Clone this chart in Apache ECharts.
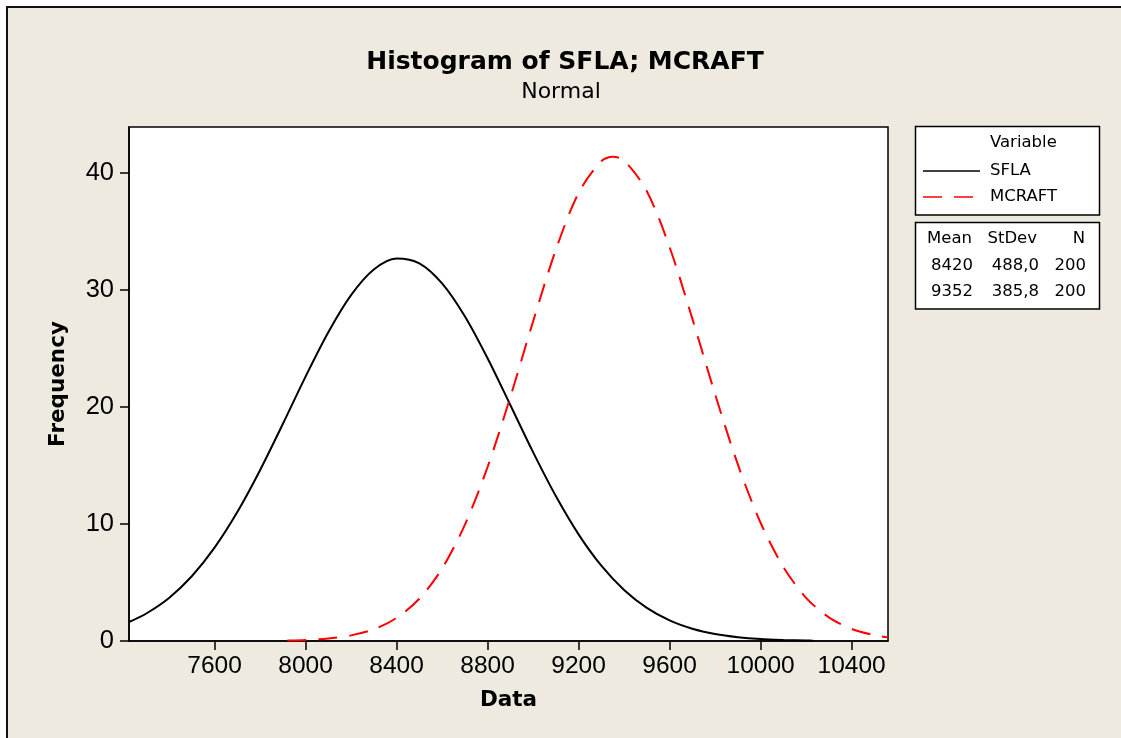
<!DOCTYPE html>
<html>
<head>
<meta charset="utf-8">
<script src="https://cdn.jsdelivr.net/npm/echarts@6/dist/echarts.min.js"></script>
<style>
  html, body { margin: 0; padding: 0; background: #ffffff; }
  #chart { width: 1121px; height: 738px; }
</style>
</head>
<body>
<div id="chart"></div>
<script>
// Fitted normal curves (frequency per 200-unit bin) for the two variables
const sflaX = [7224, 7300, 7400, 7500, 7600, 7700, 7800, 7900, 8000, 8100, 8200, 8300, 8400, 8500,
  8600, 8700, 8800, 8900, 9000, 9100, 9200, 9300, 9400, 9500, 9600, 9700, 9800, 9900, 10000,
  10100, 10200, 10230];
const sflaY = [1.62, 2.35, 3.68, 5.53, 7.97, 11.01, 14.59, 18.53, 22.58, 26.37, 29.54, 31.73, 32.67, 32.26,
  30.55, 27.74, 24.15, 20.16, 16.13, 12.38, 9.11, 6.43, 4.36, 2.83, 1.76, 1.05, 0.60, 0.33, 0.17,
  0.09, 0.04, 0.03];

const mcraftX = [7920, 8000, 8100, 8200, 8300, 8400, 8500, 8600, 8700, 8800, 8900, 9000, 9100, 9200,
  9300, 9350, 9400, 9500, 9600, 9700, 9800, 9900, 10000, 10100, 10200, 10300, 10400, 10500, 10560];
const mcraftY = [0.04, 0.09, 0.21, 0.48, 1.00, 1.97, 3.61, 6.19, 9.92, 14.86, 20.83, 27.29, 33.41, 38.27,
  40.98, 41.35, 41.04, 38.42, 33.64, 27.53, 21.08, 15.08, 10.10, 6.32, 3.69, 2.02, 1.03, 0.49, 0.31];

// Axis ticks
const xTicks = [7600, 8000, 8400, 8800, 9200, 9600, 10000, 10400];
const yTicks = [0, 10, 20, 30, 40];

// Legend and summary table
const seriesNames = ['SFLA', 'MCRAFT'];
const seriesColors = ['#000000', '#ff0000'];
const means = [8420, 9352];
const stdevs = [488.0, 385.8];
const counts = [200, 200];

const BG = '#eeeae0';
const REG = '"DejaVu Sans", sans-serif';
const TICKF = '"Liberation Sans", Arial, sans-serif';
const DASH = [19, 12];

const chart = echarts.init(document.getElementById('chart'), null, { renderer: 'canvas' });

function toPairs(xs, ys) { return xs.map((x, i) => [x, ys[i]]); }
function fmtDec(v) { return v.toFixed(1).replace('.', ','); }

// Frame, titles, legend boxes
const legendLeft = 915.5, legendW = 184;
const graphics = [
  { type: 'rect', z: -10, shape: { x: 7, y: 7, width: 1300, height: 900 },
    style: { fill: BG, stroke: '#111', lineWidth: 2 }, silent: true },
  { type: 'text', x: 565, y: 62, style: { text: 'Histogram of SFLA; MCRAFT', fill: '#000',
      font: 'bold 25px ' + REG, textAlign: 'center', textVerticalAlign: 'middle' } },
  { type: 'text', x: 561, y: 92, style: { text: 'Normal', fill: '#000',
      font: '22px ' + REG, textAlign: 'center', textVerticalAlign: 'middle' } },
  { type: 'rect', shape: { x: legendLeft, y: 126.5, width: legendW, height: 88.5 },
    style: { fill: '#ffffff', stroke: '#000', lineWidth: 1.5 } },
  { type: 'text', x: 990, y: 143, style: { text: 'Variable', fill: '#000', font: '16.5px ' + REG,
      textAlign: 'left', textVerticalAlign: 'middle' } },
  { type: 'rect', shape: { x: legendLeft, y: 222.5, width: legendW, height: 86.5 },
    style: { fill: '#ffffff', stroke: '#000', lineWidth: 1.5 } }
];
seriesNames.forEach((name, i) => {
  const y = 171 + i * 26;
  graphics.push({ type: 'line', shape: { x1: 923, y1: y, x2: 980, y2: y },
    style: { stroke: seriesColors[i], lineWidth: 1.5, lineDash: i === 1 ? DASH : null } });
  graphics.push({ type: 'text', x: 990, y: y, style: { text: name, fill: '#000', font: '16.5px ' + REG,
      textAlign: 'left', textVerticalAlign: 'middle' } });
});
const colRight = [973, 1039, 1086];
['Mean', 'StDev', 'N'].forEach((h, j) => {
  graphics.push({ type: 'text', x: colRight[j] - (j === 1 ? 2 : 1), y: 239,
    style: { text: h, fill: '#000', font: '16.5px ' + REG, textAlign: 'right', textVerticalAlign: 'middle' } });
});
means.forEach((m, i) => {
  const y = 266 + i * 26;
  const cells = [String(m), fmtDec(stdevs[i]), String(counts[i])];
  cells.forEach((c, j) => {
    graphics.push({ type: 'text', x: colRight[j], y: y,
      style: { text: c, fill: '#000', font: '16.5px ' + REG, textAlign: 'right', textVerticalAlign: 'middle' } });
  });
});

const axisLine = { show: true, onZero: false, lineStyle: { color: '#000', width: 1.5 } };

chart.setOption({
  backgroundColor: '#ffffff',
  animation: false,
  grid: {
    left: 129, right: 233, top: 127, bottom: 97,
    show: true, backgroundColor: '#ffffff', borderColor: '#000', borderWidth: 1.5,
    outerBoundsMode: 'none'
  },
  xAxis: {
    type: 'value', min: 7224, max: 10560,
    axisLine: axisLine,
    axisTick: { show: true, customValues: xTicks, length: 9, lineStyle: { color: '#000', width: 1.5 } },
    axisLabel: { customValues: xTicks, formatter: v => String(v), color: '#000',
      fontFamily: TICKF, fontSize: 24.5, margin: 13 },
    splitLine: { show: false },
    name: 'Data', nameLocation: 'middle', nameGap: 48,
    nameTextStyle: { color: '#000', fontFamily: REG, fontWeight: 'bold', fontSize: 21.5 }
  },
  yAxis: {
    type: 'value', min: 0, max: 43.9,
    axisLine: axisLine,
    axisTick: { show: true, customValues: yTicks, length: 9, lineStyle: { color: '#000', width: 1.5 } },
    axisLabel: { customValues: yTicks, formatter: v => String(v), color: '#000',
      fontFamily: TICKF, fontSize: 25.5, margin: 15 },
    splitLine: { show: false },
    name: 'Frequency', nameLocation: 'middle', nameGap: 60,
    nameTextStyle: { color: '#000', fontFamily: REG, fontWeight: 'bold', fontSize: 21.5 }
  },
  series: [
    { name: seriesNames[0], type: 'line', data: toPairs(sflaX, sflaY), symbol: 'none', smooth: 0.3,
      lineStyle: { color: seriesColors[0], width: 2 } },
    { name: seriesNames[1], type: 'line', data: toPairs(mcraftX, mcraftY), symbol: 'none', smooth: 0.3,
      lineStyle: { color: seriesColors[1], width: 2, type: DASH } }
  ],
  graphic: graphics
});
</script>
</body>
</html>
